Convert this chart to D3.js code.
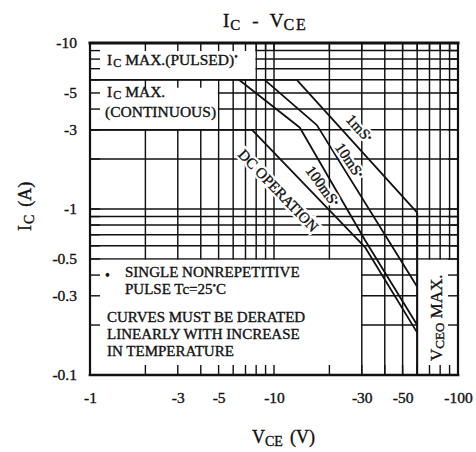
<!DOCTYPE html>
<html><head><meta charset="utf-8">
<script src="https://cdn.jsdelivr.net/npm/d3@7"></script>
<style>
html,body{margin:0;padding:0;background:#fff;}
svg{display:block;}
text{font-family:"Liberation Serif","Times New Roman",serif;fill:#111;}
.ink{stroke:#111;stroke-width:0.35px;}
</style></head><body>
<svg id="c" width="476" height="452"></svg>
<script>
// ---- data ----
const xTickValues = [-1, -3, -5, -10, -30, -50, -100];
const yTickValues = [-10, -5, -3, -1, -0.5, -0.3, -0.1];
const xGridValues = [-2, -3, -4, -5, -6, -7, -8, -9, -10, -20, -30, -40, -50, -60, -70, -80, -90];
const yGridValues = [-0.2, -0.3, -0.4, -0.5, -0.6, -0.7, -0.8, -0.9, -1, -2, -3, -4, -5, -6, -7, -8, -9];
const icPulsedMax = -6;
const icContMax = -3;
const vceoMax = -60;
const vce1ms = [-13.3, -60];
const ic1ms = [-6, -0.95];
const vce10ms = [-8.9, -17.1, -60];
const ic10ms = [-6, -3.2, -0.34];
const vce100ms = [-6.45, -13.8, -31.2, -60];
const ic100ms = [-6, -3.1, -0.65, -0.2];
const vceDC = [-7.6, -31.2, -60];
const icDC = [-3, -0.59, -0.18];
const curveLabels = ["1mS", "10mS", "100mS", "DC OPERATION"];
const curveLabelStar = [true, true, true, false];
const curveLabelV = [-29.3, -25.9, -18.5, -10.6];
const curveLabelI = [-3.08, -1.97, -1.38, -1.30];

// ---- layout ----
const svg = d3.select("#c");
const x = d3.scaleLog().domain([-1, -100]).range([90, 458]);
const y = d3.scaleLog().domain([-0.1, -10]).range([375, 43]);
const X0 = x(-1), X1 = x(-100), Y0 = y(-0.1), Y1 = y(-10);
const ink = "#111";

function rich(t, parts) {
  parts.forEach(p => {
    const ts = t.append("tspan").text(p.t).attr("font-size", p.s);
    if (p.dy) ts.attr("dy", p.dy);
    if (p.dx) ts.attr("dx", p.dx);
    if (p.ls) ts.attr("letter-spacing", p.ls);
  });
  return t.classed("ink", true);
}

// grid
const grid = svg.append("g").attr("stroke", ink).attr("stroke-width", 1.45);
grid.selectAll(".vg").data(xGridValues).join("line")
  .attr("x1", d => x(d)).attr("x2", d => x(d)).attr("y1", Y1).attr("y2", Y0);
grid.selectAll(".hg").data(yGridValues).join("line")
  .attr("y1", d => y(d)).attr("y2", d => y(d)).attr("x1", X0).attr("x2", X1);

// white label boxes
const boxes = [
  [-1, -8, -10, icPulsedMax],
  [-1, -5, icPulsedMax, icContMax],
  [-1, -30, -0.5, -0.1],
  [vceoMax, -100, -0.5, -0.1]
];
svg.append("g").selectAll("rect").data(boxes).join("rect")
  .attr("x", d => x(d[0]) + 0.8)
  .attr("width", d => x(d[1]) - x(d[0]) - 1.6)
  .attr("y", d => Math.min(y(d[2]), y(d[3])) + 0.8)
  .attr("height", d => Math.abs(y(d[3]) - y(d[2])) - 1.6)
  .attr("fill", "#fff");

// inward ticks on borders
const ticks = svg.append("g").attr("stroke", ink).attr("stroke-width", 1.4);
const tl = 10;
ticks.selectAll(".tb").data(xGridValues).join("line")
  .attr("x1", d => x(d)).attr("x2", d => x(d)).attr("y1", Y0).attr("y2", Y0 - tl);
ticks.selectAll(".tt").data(xGridValues).join("line")
  .attr("x1", d => x(d)).attr("x2", d => x(d)).attr("y1", Y1).attr("y2", Y1 + 8);
ticks.selectAll(".tlft").data(yGridValues).join("line")
  .attr("y1", d => y(d)).attr("y2", d => y(d)).attr("x1", X0).attr("x2", X0 + tl);
ticks.selectAll(".trt").data(yGridValues).join("line")
  .attr("y1", d => y(d)).attr("y2", d => y(d)).attr("x1", X1).attr("x2", X1 - tl);
ticks.selectAll(".tbx").data([-2, -3, -4]).join("line")
  .attr("x1", d => x(d)).attr("x2", d => x(d)).attr("y1", y(icPulsedMax)).attr("y2", y(icPulsedMax) + 8);

// borders
const bord = svg.append("g").attr("stroke", ink).attr("stroke-linecap", "square");
bord.append("line").attr("x1", X0).attr("x2", X1).attr("y1", Y1).attr("y2", Y1).attr("stroke-width", 3);
bord.append("line").attr("x1", X0).attr("x2", X1).attr("y1", Y0).attr("y2", Y0).attr("stroke-width", 2.6);
bord.append("line").attr("x1", X0).attr("x2", X0).attr("y1", Y1).attr("y2", Y0).attr("stroke-width", 2.2);
bord.append("line").attr("x1", X1).attr("x2", X1).attr("y1", Y1).attr("y2", Y0).attr("stroke-width", 2.2);

// limit lines
const lim = svg.append("g").attr("stroke", ink).attr("stroke-width", 1.7).attr("fill", "none");
lim.append("line").attr("x1", X0).attr("x2", x(vce1ms[0])).attr("y1", y(icPulsedMax)).attr("y2", y(icPulsedMax));
lim.append("line").attr("x1", X0).attr("x2", x(vceDC[0])).attr("y1", y(icContMax)).attr("y2", y(icContMax));
lim.append("line").attr("x1", x(vceoMax)).attr("x2", x(vceoMax)).attr("y1", y(ic1ms[ic1ms.length - 1])).attr("y2", Y0).attr("stroke-width", 2);

const line = d3.line().x(d => x(d[0])).y(d => y(d[1]));
[[vce1ms, ic1ms], [vce10ms, ic10ms], [vce100ms, ic100ms], [vceDC, icDC]].forEach(([v, i]) => {
  lim.append("path").attr("d", line(d3.zip(v, i))).attr("stroke-width", 1.8).attr("stroke-linejoin", "round");
});

// curve labels (white halo copy, then ink copy)
const angles = [48, 56, 54, 46];
curveLabels.forEach((lab, k) => {
  const parts = [{ t: lab, s: 15 }];
  if (curveLabelStar[k]) parts.push({ t: "•", s: 10, dy: -3 });
  const tr = `translate(${x(curveLabelV[k])},${y(curveLabelI[k])}) rotate(${angles[k]})`;
  rich(svg.append("text").attr("transform", tr).attr("text-anchor", "middle").attr("dy", "0.35em"), parts)
    .classed("ink", false).style("fill", "#fff").style("stroke", "#fff").style("stroke-width", "5px");
  rich(svg.append("text").attr("transform", tr).attr("text-anchor", "middle").attr("dy", "0.35em"), parts);
});

// VCEO MAX label
rich(svg.append("text").attr("transform", `translate(442,${y(-0.1) - 14}) rotate(-90)`),
  [{ t: "V", s: 17 }, { t: "CEO", s: 13, dy: 2 }, { t: " MAX.", s: 17, dy: -2 }]);

// box texts
rich(svg.append("text").attr("x", 107).attr("y", 65),
  [{ t: "I", s: 15.5 }, { t: "C", s: 12, dy: 2, dx: 1 }, { t: "MAX.(PULSED)", s: 15.5, dy: -2, dx: 4 }, { t: "•", s: 10, dy: -5 }]);
rich(svg.append("text").attr("x", 107).attr("y", 97),
  [{ t: "I", s: 15.5 }, { t: "C", s: 12, dy: 2, dx: 1 }, { t: "MAX.", s: 15.5, dy: -2, dx: 4 }]);
rich(svg.append("text").attr("x", 105).attr("y", 117), [{ t: "(CONTINUOUS)", s: 15.5 }]);

rich(svg.append("text").attr("x", 105).attr("y", 280), [{ t: "•", s: 14 }]);
rich(svg.append("text").attr("x", 125).attr("y", 277), [{ t: "SINGLE NONREPETITIVE", s: 15 }]);
rich(svg.append("text").attr("x", 125).attr("y", 294),
  [{ t: "PULSE Tc=25", s: 15 }, { t: "•", s: 10, dy: -5 }, { t: "C", s: 15, dy: 5 }]);
rich(svg.append("text").attr("x", 107).attr("y", 322), [{ t: "CURVES MUST BE DERATED", s: 15 }]);
rich(svg.append("text").attr("x", 107).attr("y", 339), [{ t: "LINEARLY WITH INCREASE", s: 15 }]);
rich(svg.append("text").attr("x", 107).attr("y", 356), [{ t: "IN TEMPERATURE", s: 15 }]);

// axes (labels only)
const fmt = d => "-" + Math.abs(d);
const ax = svg.append("g").attr("transform", `translate(0,${Y0})`)
  .call(d3.axisBottom(x).tickValues(xTickValues).tickFormat(fmt).tickSize(0).tickPadding(17));
ax.select(".domain").remove();
ax.attr("font-family", null).attr("font-size", null);
ax.selectAll("text").attr("font-size", 15.5).attr("fill", ink).classed("ink", true);

const ay = svg.append("g").attr("transform", `translate(${X0},0)`)
  .call(d3.axisLeft(y).tickValues(yTickValues).tickFormat(fmt).tickSize(0).tickPadding(13));
ay.select(".domain").remove();
ay.attr("font-family", null).attr("font-size", null);
ay.selectAll("text").attr("font-size", 15.5).attr("fill", ink).classed("ink", true);

// titles
rich(svg.append("text").attr("x", 223).attr("y", 27),
  [{ t: "I", s: 19 }, { t: "C", s: 15, dy: 3, dx: 1 }, { t: "-", s: 19, dy: -3, dx: 12 }, { t: "V", s: 19, dx: 11 }, { t: "CE", s: 16, dy: 3, ls: 2 }]);
rich(svg.append("text").attr("x", 252).attr("y", 443),
  [{ t: "V", s: 18 }, { t: "CE", s: 14, dy: 3 }, { t: "(V)", s: 18, dy: -3, dx: 7 }]);
rich(svg.append("text").attr("transform", "translate(31,231) rotate(-90)"),
  [{ t: "I", s: 18 }, { t: "C", s: 14, dy: 3, dx: 1 }, { t: "(A)", s: 18, dy: -3, dx: 8 }]);
</script>
</body></html>
